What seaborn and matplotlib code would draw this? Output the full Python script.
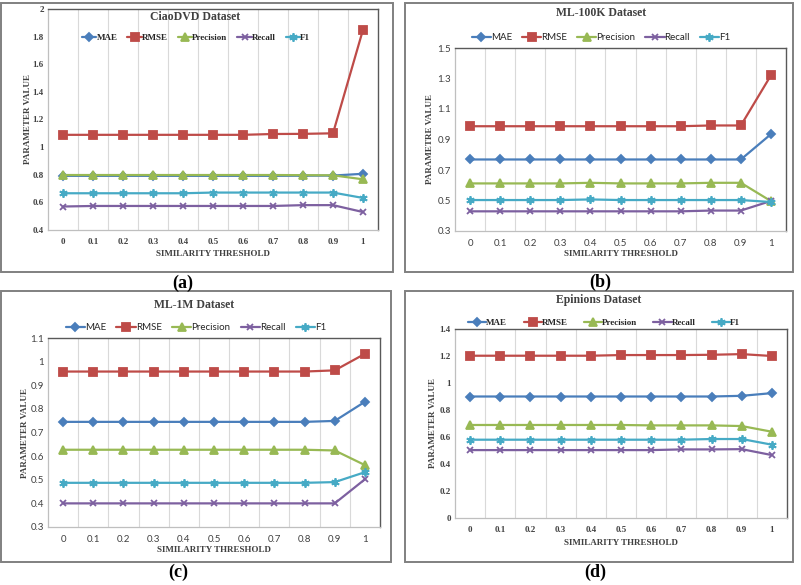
import matplotlib
matplotlib.use("Agg")
import matplotlib.pyplot as plt
from matplotlib.patches import Rectangle
import seaborn as sns

THRESHOLDS = [0, 0.1, 0.2, 0.3, 0.4, 0.5, 0.6, 0.7, 0.8, 0.9, 1.0]
X_LABELS = ["0", "0.1", "0.2", "0.3", "0.4", "0.5", "0.6", "0.7", "0.8", "0.9", "1"]
METRICS = ["MAE", "RMSE", "Precision", "Recall", "F1"]

# CiaoDVD
ciao_mae = [0.792, 0.792, 0.792, 0.792, 0.792, 0.792, 0.792, 0.792, 0.793, 0.794, 0.807]
ciao_rmse = [1.089, 1.089, 1.089, 1.089, 1.089, 1.089, 1.089, 1.095, 1.096, 1.100, 1.850]
ciao_prec = [0.798, 0.798, 0.798, 0.798, 0.798, 0.798, 0.798, 0.798, 0.797, 0.796, 0.767]
ciao_recall = [0.570, 0.574, 0.574, 0.574, 0.574, 0.574, 0.574, 0.574, 0.580, 0.580, 0.530]
ciao_f1 = [0.666, 0.666, 0.666, 0.666, 0.666, 0.671, 0.671, 0.671, 0.671, 0.671, 0.632]

# ML-100K
ml100k_mae = [0.769, 0.769, 0.769, 0.769, 0.769, 0.769, 0.769, 0.769, 0.769, 0.769, 0.935]
ml100k_rmse = [0.987, 0.987, 0.987, 0.987, 0.987, 0.987, 0.987, 0.987, 0.992, 0.992, 1.321]
ml100k_prec = [0.612, 0.612, 0.612, 0.612, 0.616, 0.612, 0.612, 0.612, 0.616, 0.616, 0.496]
ml100k_recall = [0.429, 0.429, 0.429, 0.429, 0.429, 0.429, 0.429, 0.429, 0.434, 0.434, 0.497]
ml100k_f1 = [0.503, 0.503, 0.503, 0.503, 0.507, 0.503, 0.503, 0.503, 0.503, 0.503, 0.490]

# ML-1M
ml1m_mae = [0.745, 0.745, 0.745, 0.745, 0.745, 0.745, 0.745, 0.745, 0.745, 0.749, 0.830]
ml1m_rmse = [0.958, 0.958, 0.958, 0.958, 0.958, 0.958, 0.958, 0.958, 0.958, 0.963, 1.033]
ml1m_prec = [0.627, 0.627, 0.627, 0.627, 0.627, 0.627, 0.627, 0.627, 0.627, 0.624, 0.562]
ml1m_recall = [0.400, 0.400, 0.400, 0.400, 0.400, 0.400, 0.400, 0.400, 0.400, 0.400, 0.502]
ml1m_f1 = [0.487, 0.487, 0.487, 0.487, 0.487, 0.487, 0.487, 0.487, 0.487, 0.490, 0.532]

# Epinions
epi_mae = [0.900, 0.900, 0.900, 0.900, 0.900, 0.900, 0.900, 0.900, 0.900, 0.905, 0.925]
epi_rmse = [1.202, 1.202, 1.202, 1.202, 1.202, 1.207, 1.207, 1.207, 1.209, 1.214, 1.200]
epi_prec = [0.689, 0.689, 0.689, 0.689, 0.689, 0.689, 0.686, 0.686, 0.686, 0.681, 0.639]
epi_recall = [0.503, 0.503, 0.503, 0.503, 0.503, 0.503, 0.503, 0.508, 0.508, 0.510, 0.466]
epi_f1 = [0.580, 0.580, 0.580, 0.580, 0.580, 0.580, 0.580, 0.580, 0.585, 0.585, 0.543]

COLORS = {"MAE": "#4A7EBB", "RMSE": "#BE4B48", "Precision": "#98B954",
          "Recall": "#7D60A0", "F1": "#46AAC5"}
MARKERS = {"MAE": ("D", 4), "RMSE": ("s", 6), "Precision": ("^", 5.5),
           "Recall": ("x", 5), "F1": ((6, 2, 0), 6)}

sns.set_style("white")
SERIF = ["Liberation Serif", "DejaVu Serif"]
SANS = ["Lato", "DejaVu Sans"]
plt.rcParams["font.family"] = SERIF

W, H = 801, 585
fig = plt.figure(figsize=(8.01, 5.85), dpi=100)


def fx(px):
    return px / W


def fy(py):
    return 1 - py / H


panels = [
    dict(title="CiaoDVD Dataset", ylabel="PARAMETER VALUE", caption="(a)",
         data=[ciao_mae, ciao_rmse, ciao_prec, ciao_recall, ciao_f1],
         ylim=(0.4, 2.0), ystep=0.2, tickfont=SERIF, tickbold=True, leg=(1.6, 1.1),
         ax=(48, 378, 9, 230), border=(1, 393, 3, 272),
         title_xy=(195, 17), leg_xy=(196, 38), ylab_x=28, xlab_y=254, cap_xy=(183, 283)),
    dict(title="ML-100K Dataset", ylabel="PARAMETRE VALUE", caption="(b)",
         data=[ml100k_mae, ml100k_rmse, ml100k_prec, ml100k_recall, ml100k_f1],
         ylim=(0.3, 1.5), ystep=0.2, tickfont=SANS, tickbold=False, leg=(2.0, 1.0),
         ax=(455, 786, 48, 231), border=(405, 793, 3, 272),
         title_xy=(601, 13), leg_xy=(601, 38), ylab_x=430, xlab_y=254, cap_xy=(600, 282)),
    dict(title="ML-1M Dataset", ylabel="PARAMETER VALUE", caption="(c)",
         data=[ml1m_mae, ml1m_rmse, ml1m_prec, ml1m_recall, ml1m_f1],
         ylim=(0.3, 1.1), ystep=0.1, tickfont=SANS, tickbold=False, leg=(2.0, 1.05),
         ax=(48, 380, 338, 527), border=(1, 391, 291, 562),
         title_xy=(194, 305), leg_xy=(196, 328), ylab_x=25, xlab_y=550, cap_xy=(178, 572)),
    dict(title="Epinions Dataset", ylabel="PARAMETER VALUE", caption="(d)",
         data=[epi_mae, epi_rmse, epi_prec, epi_recall, epi_f1],
         ylim=(0.0, 1.4), ystep=0.2, tickfont=SERIF, tickbold=True, leg=(2.0, 1.8),
         ax=(455, 787, 329, 518), border=(405, 793, 291, 562),
         title_xy=(599, 300), leg_xy=(604, 323), ylab_x=433, xlab_y=543, cap_xy=(595, 572)),
]

for p in panels:
    x0, x1, y0, y1 = p["ax"]
    ax = fig.add_axes([fx(x0), fy(y1), fx(x1) - fx(x0), fy(y0) - fy(y1)])

    for name, vals in zip(METRICS, p["data"]):
        mk, ms = MARKERS[name]
        sns.lineplot(x=THRESHOLDS, y=vals, ax=ax, color=COLORS[name], label=name,
                     marker=mk, markersize=ms, markeredgecolor=COLORS[name],
                     markeredgewidth=1.3, linewidth=1.6)

    ax.set_xlim(-0.05, 1.05)
    ax.set_ylim(*p["ylim"])
    lo, hi = p["ylim"]
    n = int(round((hi - lo) / p["ystep"]))
    yt = [round(lo + i * p["ystep"], 2) for i in range(n + 1)]
    ax.set_yticks(yt)
    ax.set_yticklabels([f"{v:g}" for v in yt])
    ax.set_xticks(THRESHOLDS)
    ax.set_xticklabels(X_LABELS)
    ax.set_xticks([t + 0.05 for t in THRESHOLDS[:-1]], minor=True)
    ax.grid(False)
    ax.grid(True, which="minor", axis="x", color="#D9D9D9", linewidth=0.8)
    ax.tick_params(which="both", length=0)
    ax.tick_params(axis="x", pad=5.5)
    ax.tick_params(axis="y", pad=3)
    weight = "bold" if p["tickbold"] else "normal"
    fsize = 6.5 if p["tickbold"] else 7
    for lab in ax.get_xticklabels() + ax.get_yticklabels():
        lab.set_family(p["tickfont"])
        lab.set_fontweight(weight)
        lab.set_fontsize(fsize)
        lab.set_color("#404040")
    for side in ("left", "bottom"):
        ax.spines[side].set_color("#BFBFBF")
        ax.spines[side].set_linewidth(0.9)
    for side in ("top", "right"):
        ax.spines[side].set_color("#595959")
        ax.spines[side].set_linewidth(1.0)
    ax.set_xlabel("")
    ax.set_ylabel("")

    handles, labels = ax.get_legend_handles_labels()
    hl, cs = p["leg"]
    ax.legend(handles, labels, ncol=5, loc="center", frameon=False,
              bbox_to_anchor=(fx(p["leg_xy"][0]), fy(p["leg_xy"][1])),
              bbox_transform=fig.transFigure, handlelength=hl, columnspacing=cs,
              handletextpad=0.0, borderpad=0,
              prop=dict(family=p["tickfont"], weight=weight, size=fsize))

    fig.text(fx(p["title_xy"][0]), fy(p["title_xy"][1]), p["title"], ha="center",
             va="center", fontsize=8.5, fontweight="bold", color="#404040")
    fig.text(fx(p["ylab_x"]), fy((y0 + y1) / 2), p["ylabel"], rotation=90,
             ha="center", va="center", fontsize=6.5, fontweight="bold", color="#404040")
    fig.text(fx((x0 + x1) / 2), fy(p["xlab_y"]), "SIMILARITY THRESHOLD",
             ha="center", va="center", fontsize=6.5, fontweight="bold", color="#404040")
    fig.text(fx(p["cap_xy"][0]), fy(p["cap_xy"][1]), p["caption"], ha="center",
             va="center", fontsize=13, fontweight="bold", color="black")

    bx0, bx1, by0, by1 = p["border"]
    fig.patches.append(Rectangle((fx(bx0), fy(by1)), fx(bx1) - fx(bx0), fy(by0) - fy(by1),
                                 transform=fig.transFigure, fill=False,
                                 edgecolor="#808080", linewidth=1.4))

fig.savefig("out.png", dpi=100)
